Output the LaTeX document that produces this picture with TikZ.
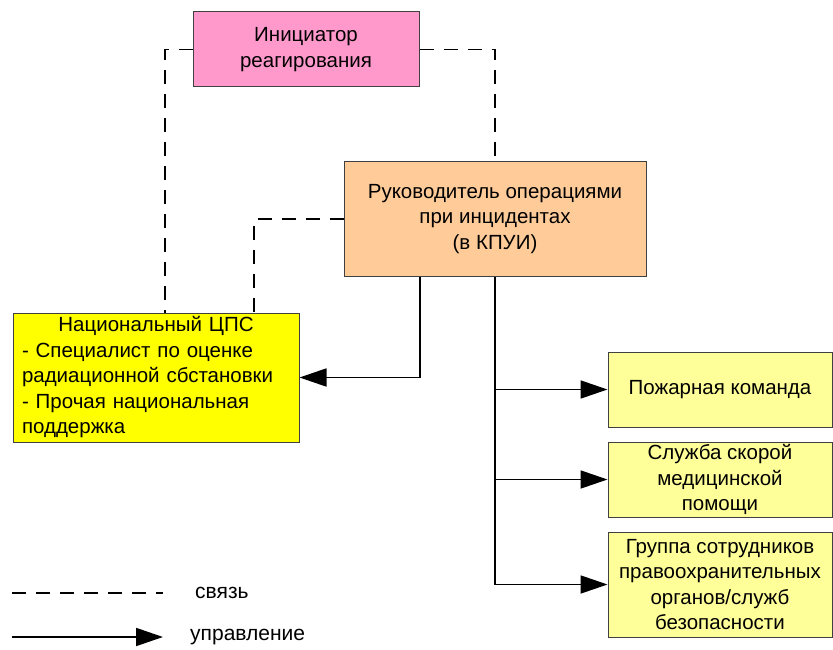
\documentclass[tikz,border=0pt]{standalone}
\usepackage{fontspec}
\setmainfont{Liberation Sans}
\usetikzlibrary{arrows.meta}
\definecolor{pinkbox}{HTML}{FF99CC}
\definecolor{peachbox}{HTML}{FFCC99}
\definecolor{yelbox}{HTML}{FFFF00}
\definecolor{lyelbox}{HTML}{FFFF99}
\definecolor{edgegray}{HTML}{404040}
\tikzset{
  box/.style={draw=edgegray, line width=1pt, rectangle, inner sep=0pt, align=center,
    font=\fontsize{20.5}{25.5}\selectfont},
  link/.style={draw=black, line width=1.3pt, dash pattern=on 14pt off 10pt},
  ctrl/.style={draw=black, line width=1.8pt, -{Triangle[length=27pt,width=18pt]}},
  plain/.style={draw=black, line width=1.8pt},
  legtext/.style={anchor=west, inner sep=0pt, font=\fontsize{21}{25}\selectfont}
}
\begin{document}
\begin{tikzpicture}[x=1pt,y=-1pt]
\useasboundingbox (0,0) rectangle (833,650);
\fill[white] (0,0) rectangle (833,650);

\node[box, fill=pinkbox, minimum width=226pt, minimum height=75pt] (ini) at (306,49.5)
  {Инициатор\\реагирования};
\node[box, fill=peachbox, minimum width=302pt, minimum height=114pt] (ruk) at (495,219)
  {Руководитель операциями\\при инцидентах\\(в КПУИ)};
\node[box, fill=yelbox, minimum width=286pt, minimum height=129pt, text width=268pt, align=left] (nat) at (156,377.5)
  {\hfill Национальный ЦПС\hfill\null\\- Специалист по оценке\\радиационной сбстановки\\- Прочая национальная\\поддержка};
\node[box, fill=lyelbox, minimum width=224pt, minimum height=75pt] (b1) at (720,389.5)
  {Пожарная команда};
\node[box, fill=lyelbox, minimum width=224pt, minimum height=75pt] (b2) at (720,479.5)
  {Служба скорой\\медицинской\\помощи};
\node[box, fill=lyelbox, minimum width=224pt, minimum height=105pt] (b3) at (720,584.5)
  {Группа сотрудников\\правоохранительных\\органов/служб\\безопасности};

\coordinate (xL) at (165,0);
\coordinate (xM) at (254,0);
\coordinate (xC) at (420,0);

% dashed links
\draw[link] (ini.west) -| (nat.north -| xL);
\draw[link] (ini.east) -| (ruk.north);
\draw[link] (ruk.west) -| (nat.north -| xM);

% control lines
\draw[ctrl] (ruk.south -| xC) |- (nat.east);
\draw[plain] (ruk.south) -- (ruk.south |- b3.west);
\draw[ctrl] (ruk.south |- b1.west) -- (b1.west);
\draw[ctrl] (ruk.south |- b2.west) -- (b2.west);
\draw[ctrl] (ruk.south |- b3.west) -- (b3.west);

% legend
\coordinate (la) at (12,593);
\coordinate (lb) at (163,593);
\coordinate (ma) at (12,637);
\coordinate (mb) at (163,637);
\draw[link] (la) -- (lb);
\node[legtext] (lt1) at (195,593) {связь};
\draw[ctrl] (ma) -- (mb);
\node[legtext] (lt2) at (190,637) {управление};
\end{tikzpicture}
\end{document}
